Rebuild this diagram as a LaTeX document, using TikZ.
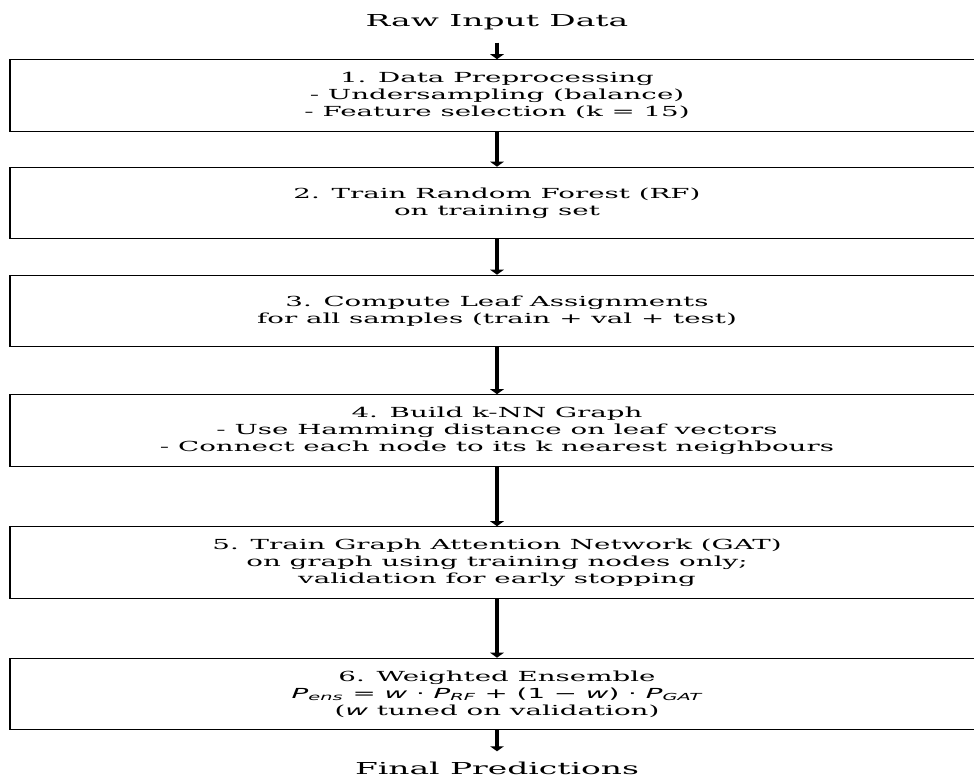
\documentclass[tikz,border=0pt]{standalone}
\usepackage{fontspec}
\setmainfont{DejaVu Serif}
\newfontfamily\eqfont{DejaVu Sans}
\usetikzlibrary{arrows.meta}

\newcommand{\ivar}[1]{{\eqfont\itshape #1}}
\newcommand{\pvar}[1]{\ivar{P}\textsubscript{\ivar{#1}}}

\begin{document}
\begin{tikzpicture}[x=1bp,y=1bp,>={Triangle[length=5bp,width=6.5bp]},
    stage/.style={draw,line width=1pt,fill=white,minimum width=487bp,minimum height=71.5bp,
      inner sep=0pt,align=center,font=\fontsize{13.9}{17}\selectfont},
    terminal/.style={anchor=base,inner xsep=0pt,inner ysep=12bp,font=\fontsize{16.5}{20}\selectfont}]
  \useasboundingbox (0,0) rectangle (974,778);
  \begin{scope}[transform canvas={xscale=2}]
  \node[terminal] (raw) at (248.5,751) {Raw Input Data};
  \node[stage] (prep) at (248.5,682.5) {1. Data Preprocessing\\- Undersampling (balance)\\- Feature selection (k = 15)};
  \node[stage] (rf) at (248.5,575) {2. Train Random Forest (RF)\\on training set};
  \node[stage] (leaf) at (248.5,467) {3. Compute Leaf Assignments\\for all samples (train + val + test)};
  \node[stage] (knn) at (248.5,347.5) {4. Build k-NN Graph\\- Use Hamming distance on leaf vectors\\- Connect each node to its k nearest neighbours};
  \node[stage] (gat) at (248.5,215.5) {5. Train Graph Attention Network (GAT)\\on graph using training nodes only;\\validation for early stopping};
  \node[stage] (ens) at (248.5,84) {6. Weighted Ensemble\\{\eqfont\pvar{ens} = \ivar{w} · \pvar{RF} + (1 − \ivar{w}) · \pvar{GAT}}\\(\ivar{w} tuned on validation)};
  \node[terminal,inner ysep=10.5bp] (final) at (248.5,3.5) {Final Predictions};
  \path[->,line width=2bp] (raw) edge (prep)
             (prep) edge (rf)
             (rf) edge (leaf)
             (leaf) edge (knn)
             (knn) edge (gat)
             (gat) edge (ens)
             (ens) edge (final);
  \end{scope}
\end{tikzpicture}
\end{document}
